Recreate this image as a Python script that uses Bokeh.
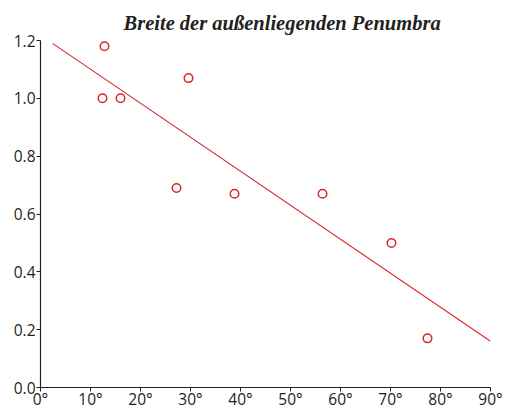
from bokeh.plotting import figure
from bokeh.models import Range1d, FixedTicker, PrintfTickFormatter, Title
from bokeh.embed import file_html
from bokeh.resources import INLINE

# data
angle = [12.8, 12.4, 16.0, 29.6, 27.2, 38.8, 56.4, 70.2, 77.4]
width_ratio = [1.18, 1.00, 1.00, 1.07, 0.69, 0.67, 0.67, 0.50, 0.17]
fit_x = [2.4, 90.0]
fit_y = [1.19, 0.16]
x_ticks = [0, 10, 20, 30, 40, 50, 60, 70, 80, 90]
y_ticks = [0.0, 0.2, 0.4, 0.6, 0.8, 1.0, 1.2]

RED = "#d7262b"
INK = "#231f20"

p = figure(width=505, height=412, output_backend="svg", toolbar_location=None,
           x_range=Range1d(0, 90), y_range=Range1d(0, 1.2),
           min_border_left=40, min_border_right=15, min_border_top=40, min_border_bottom=0)

p.add_layout(Title(text="Breite der außenliegenden Penumbra", align="left", offset=83,
                   text_font="Liberation Serif", text_font_style="bold italic",
                   text_font_size="20.5px", text_color=INK, standoff=14), "above")

p.line(fit_x, fit_y, line_color=RED, line_width=1.1)
p.scatter(angle, width_ratio, marker="circle", size=8.5, fill_color=None,
          line_color=RED, line_width=1.5)

p.grid.visible = False
p.outline_line_color = None

for ax in (p.xaxis[0], p.yaxis[0]):
    ax.axis_line_color = INK
    ax.axis_line_width = 1.2
    ax.major_tick_line_color = INK
    ax.major_tick_in = 0
    ax.major_tick_out = 4
    ax.minor_tick_line_color = None
    ax.major_label_text_font = "Open Sans"
    ax.major_label_text_font_size = "15.5px"
    ax.major_label_text_color = INK
    ax.major_label_standoff = 1

p.xaxis.major_label_standoff = -4

p.xaxis.ticker = FixedTicker(ticks=x_ticks)
p.xaxis.formatter = PrintfTickFormatter(format="%d°")
p.yaxis.ticker = FixedTicker(ticks=y_ticks)
p.yaxis.formatter = PrintfTickFormatter(format="%.1f")

open("out.html", "w").write(file_html(p, INLINE))
